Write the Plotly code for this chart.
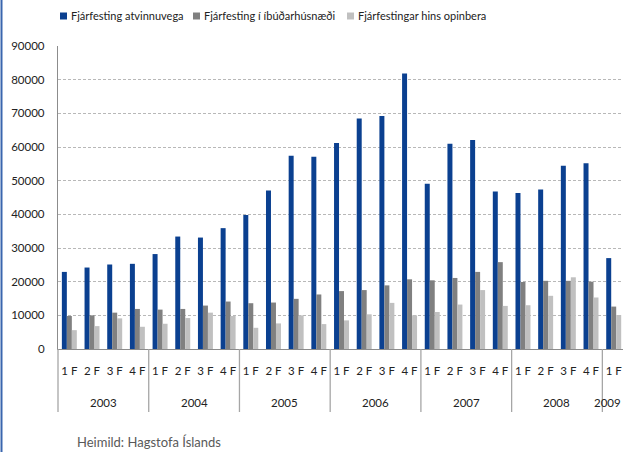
import plotly.graph_objects as go

years = ["2003", "2004", "2005", "2006", "2007", "2008", "2009"]
quarters = ["1 F", "2 F", "3 F", "4 F"] * 6 + ["1 F"]
series_names = ["Fjárfesting atvinnuvega", "Fjárfesting í íbúðarhúsnæði", "Fjárfestingar hins opinbera"]

atvinnuvega = [22900, 24200, 25100, 25300,
               28200, 33400, 33100, 35900,
               39800, 47100, 57400, 57100,
               61200, 68500, 69200, 81800,
               49100, 61000, 62100, 46800,
               46300, 47400, 54400, 55200,
               27000]
ibudarhusnaedi = [9800, 10000, 10800, 11900,
                  11700, 11900, 12900, 14100,
                  13600, 13800, 14900, 16200,
                  17200, 17500, 18900, 20700,
                  20400, 21100, 22900, 25800,
                  19900, 20250, 20250, 20000,
                  12600]
opinbera = [5600, 6800, 9100, 6600,
            7500, 9200, 10800, 9800,
            6300, 7600, 10000, 7400,
            8500, 10300, 13700, 10000,
            11000, 13200, 17500, 12800,
            13000, 15800, 21300, 15300,
            10100]
year_quarter_counts = [4, 4, 4, 4, 4, 4, 1]

colors = ["#0B4090", "#808080", "#C0C0C0"]

W, H = 623, 452
ML, MR, MT, MB = 58, 0, 46, 103
PW, PH = W - ML - MR, H - MT - MB
XMIN, XMAX = -0.5, 24.41

x = list(range(len(quarters)))

fig = go.Figure()
for name, vals, col in zip(series_names, [atvinnuvega, ibudarhusnaedi, opinbera], colors):
    fig.add_trace(go.Bar(x=x, y=vals, name=name, marker=dict(color=col, line=dict(width=0)),
                         showlegend=False))

FONT = "Lato, 'Open Sans', sans-serif"

def px_to_paper_x(px):
    return (px - ML) / PW

def px_to_paper_y(py):
    return (H - MB - py) / PH

def data_to_paper_x(v):
    return (v - XMIN) / (XMAX - XMIN)

annotations = []
shapes = []

# year labels and dividers computed from the category groups
start = 0
for yr, cnt in zip(years, year_quarter_counts):
    center = start + (cnt - 1) / 2
    xc = data_to_paper_x(center)
    anchor = "center"
    if xc > px_to_paper_x(W - 14):
        xc, anchor = px_to_paper_x(W - 0.5), "right"
    annotations.append(dict(x=xc, y=px_to_paper_y(402), xref="paper", yref="paper",
                            text=yr, showarrow=False, xanchor=anchor, yanchor="middle",
                            font=dict(size=11.5, color="#222", family=FONT)))
    xd = data_to_paper_x(start - 0.5)
    shapes.append(dict(type="line", xref="paper", yref="paper", x0=xd, x1=xd,
                       y0=0, y1=px_to_paper_y(412), line=dict(color="#A6A6A6", width=1.3)))
    start += cnt

# manual legend
leg_sq_x = [60, 193, 347]
for name, col, sx in zip(series_names, colors, leg_sq_x):
    shapes.append(dict(type="rect", xref="paper", yref="paper",
                       x0=px_to_paper_x(sx), x1=px_to_paper_x(sx + 7),
                       y0=px_to_paper_y(19.5), y1=px_to_paper_y(12.5),
                       fillcolor=col, line=dict(width=0)))
    annotations.append(dict(x=px_to_paper_x(sx + 9), y=px_to_paper_y(16), xref="paper", yref="paper",
                            text=name, showarrow=False, xanchor="left", yanchor="middle",
                            font=dict(size=11, color="#222", family=FONT)))

# source note
annotations.append(dict(x=px_to_paper_x(75), y=px_to_paper_y(442), xref="paper", yref="paper",
                        text="Heimild: Hagstofa Íslands", showarrow=False, xanchor="left", yanchor="middle",
                        font=dict(size=13, color="#595959", family=FONT)))

# left slide border
shapes.append(dict(type="line", xref="paper", yref="paper",
                   x0=px_to_paper_x(1.5), x1=px_to_paper_x(1.5),
                   y0=px_to_paper_y(0), y1=px_to_paper_y(H),
                   line=dict(color="#3A66AE", width=2)))

fig.update_layout(
    width=W, height=H,
    margin=dict(l=ML, r=MR, t=MT, b=MB, pad=0),
    paper_bgcolor="white", plot_bgcolor="white",
    barmode="group", bargap=0.34, bargroupgap=0,
    font=dict(family=FONT, size=11, color="#222"),
    annotations=annotations, shapes=shapes,
    xaxis=dict(range=[XMIN, XMAX], tickmode="array", tickvals=x, ticktext=quarters,
               showgrid=False, zeroline=False, showline=True, linecolor="#8C8C8C", linewidth=1.3,
               ticks="", ticklabelstandoff=11, tickfont=dict(size=11.5, color="#222")),
    yaxis=dict(range=[0, 90000], dtick=10000, tickformat="d",
               showgrid=True, gridcolor="#B8B8B8", griddash="3px,2px", gridwidth=1,
               zeroline=False, showline=True, linecolor="#8C8C8C", linewidth=1.3,
               ticks="", ticklabelstandoff=10, tickfont=dict(size=11.5, color="#222")),
)

fig.write_html("out.html", config={"displayModeBar": False},
               post_script="document.body.style.margin='0';document.body.style.overflow='hidden';")
